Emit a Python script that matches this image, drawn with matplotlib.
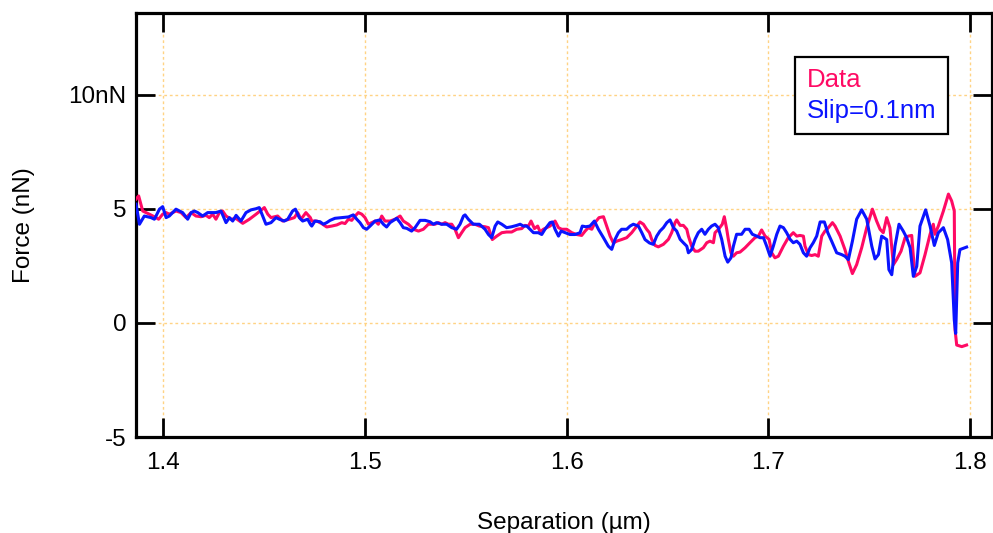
import matplotlib
matplotlib.use("Agg")
import matplotlib.pyplot as plt
from matplotlib.lines import Line2D

plt.rcParams['font.family'] = ['Liberation Sans', 'DejaVu Sans']

# Measured force curve (separation in µm, force in nN)
data_x = [
    1.3866, 1.3879, 1.3899, 1.3932, 1.3965, 1.3978, 1.3998, 1.4015, 1.4031, 1.4064,
    1.4089, 1.4114, 1.4139, 1.4163, 1.4188, 1.4213, 1.4229, 1.4246, 1.4262, 1.4279,
    1.4295, 1.4312, 1.4337, 1.4362, 1.4395, 1.4428, 1.4461, 1.4502, 1.4519, 1.4535,
    1.4568, 1.4593, 1.4626, 1.4651, 1.4667, 1.4684, 1.4708, 1.4730,
    1.4737, 1.4762, 1.4786, 1.4811, 1.4836, 1.4861, 1.4886, 1.4902, 1.4919, 1.4935,
    1.4952, 1.4968, 1.4985, 1.5001, 1.5018, 1.5034, 1.5051, 1.5067, 1.5084, 1.5100,
    1.5125, 1.5150, 1.5175, 1.5191, 1.5216, 1.5241, 1.5266, 1.5290, 1.5315, 1.5332,
    1.5348, 1.5365, 1.5381, 1.5398, 1.5414, 1.5431, 1.5447, 1.5464, 1.5480, 1.5497,
    1.5522, 1.5546, 1.5568,
    1.5596, 1.5613, 1.5632, 1.5654, 1.5679, 1.5703, 1.5728, 1.5753, 1.5778, 1.5794,
    1.5811, 1.5824, 1.5841, 1.5857, 1.5869, 1.5885, 1.5902, 1.5918, 1.5943, 1.5960,
    1.5976, 1.6001, 1.6026, 1.6050, 1.6075, 1.6092, 1.6108, 1.6125, 1.6141, 1.6161,
    1.6183, 1.6199, 1.6216, 1.6232, 1.6249, 1.6273, 1.6298, 1.6323, 1.6348, 1.6364,
    1.6381, 1.6397, 1.6411,
    1.6422, 1.6439, 1.6455, 1.6480, 1.6505, 1.6521, 1.6538, 1.6546, 1.6563, 1.6579,
    1.6596, 1.6604, 1.6620, 1.6637, 1.6653, 1.6678, 1.6695, 1.6711, 1.6728, 1.6736,
    1.6753, 1.6772, 1.6782, 1.6794, 1.6802, 1.6815, 1.6827, 1.6843, 1.6860, 1.6885,
    1.6909, 1.6934, 1.6951, 1.6967, 1.6984, 1.7004, 1.7017, 1.7033, 1.7050, 1.7075,
    1.7099, 1.7124, 1.7141, 1.7157, 1.7174, 1.7182, 1.7199, 1.7215, 1.7232, 1.7248,
    1.7265, 1.7281, 1.7298, 1.7318, 1.7331, 1.7356, 1.7380, 1.7397, 1.7417, 1.7438,
    1.7463, 1.7488, 1.7516, 1.7537, 1.7554, 1.7570, 1.7587, 1.7603, 1.7620, 1.7636,
    1.7658, 1.7678, 1.7694, 1.7711, 1.7727, 1.7752, 1.7777, 1.7802, 1.7818, 1.7826,
    1.7843, 1.7868, 1.7893, 1.7909, 1.7922, 1.7926, 1.7934, 1.7959, 1.7983,
]
data_f = [
    5.42, 5.56, 4.90, 4.76, 4.61, 4.54, 4.76, 4.83, 4.76, 4.90,
    4.83, 4.61, 4.83, 4.68, 4.65, 4.71, 4.61, 4.76, 4.54, 4.83,
    4.90, 4.68, 4.54, 4.57, 4.36, 4.54, 4.76, 5.05, 4.76, 4.61,
    4.68, 4.46, 4.54, 4.61, 4.83, 4.54, 4.83, 4.61,
    4.46, 4.46, 4.35, 4.20, 4.24, 4.29, 4.39, 4.35, 4.54, 4.49,
    4.68, 4.83, 4.76, 4.61, 4.32, 4.39, 4.46, 4.32, 4.68, 4.46,
    4.46, 4.54, 4.68, 4.46, 4.32, 4.10, 4.02, 4.10, 4.32, 4.32,
    4.32, 4.39, 4.32, 4.39, 4.32, 4.32, 4.10, 3.73, 3.95, 4.17,
    4.32, 4.32, 4.24,
    4.21, 4.17, 3.65, 3.80, 3.95, 3.98, 3.98, 4.10, 4.13, 4.27,
    4.24, 4.46, 4.13, 4.24, 3.98, 4.10, 4.17, 4.24, 4.46, 4.17,
    4.10, 4.10, 3.95, 3.87, 3.83, 4.02, 4.17, 4.10, 4.39, 4.61,
    4.65, 4.24, 3.80, 3.50, 3.58, 3.65, 3.73, 3.95, 4.24, 4.42,
    4.32, 4.10, 3.95,
    3.66, 3.39, 3.33, 3.44, 3.66, 3.95, 4.39, 4.51, 4.27, 4.27,
    4.10, 3.80, 3.36, 3.14, 3.14, 3.29, 3.51, 3.58, 3.51, 3.95,
    4.10, 4.32, 4.65, 4.10, 3.66, 3.07, 2.92, 3.07, 3.10, 3.29,
    3.51, 3.73, 3.80, 4.07, 3.80, 3.66, 3.07, 2.85, 2.92, 3.36,
    3.73, 3.95, 3.80, 3.83, 3.80, 3.36, 2.99, 2.95, 2.99, 2.92,
    3.80, 4.02, 4.17, 4.39, 4.24, 3.80, 3.21, 2.70, 2.16, 2.55,
    3.29, 4.17, 4.98, 4.46, 4.10, 3.95, 4.61, 4.17, 2.55, 2.77,
    3.14, 3.73, 3.80, 3.83, 2.04, 2.19, 2.99, 3.88, 4.32, 3.88,
    4.24, 4.90, 5.64, 5.34, 4.90, -0.31, -0.97, -1.04, -0.97,
]

# Slip model, 0.1 nm slip length
slip_x = [
    1.3866, 1.3883, 1.3907, 1.3940, 1.3957, 1.3982, 1.3998, 1.4015, 1.4031, 1.4064,
    1.4097, 1.4122, 1.4139, 1.4155, 1.4172, 1.4196, 1.4221, 1.4238, 1.4262, 1.4287,
    1.4312, 1.4329, 1.4345, 1.4362, 1.4386, 1.4411, 1.4436, 1.4461, 1.4477, 1.4494,
    1.4510, 1.4535, 1.4560, 1.4576, 1.4601, 1.4618, 1.4642, 1.4656, 1.4675, 1.4692,
    1.4717, 1.4730,
    1.4737, 1.4753, 1.4778, 1.4795, 1.4811, 1.4828, 1.4852, 1.4886, 1.4919, 1.4943,
    1.4960, 1.4976, 1.4993, 1.5009, 1.5026, 1.5051, 1.5075, 1.5092, 1.5108, 1.5125,
    1.5142, 1.5158, 1.5175, 1.5191, 1.5208, 1.5232, 1.5249, 1.5274, 1.5299, 1.5323,
    1.5340, 1.5356, 1.5381, 1.5406, 1.5431, 1.5455, 1.5472, 1.5489, 1.5497, 1.5513,
    1.5538, 1.5568,
    1.5596, 1.5613, 1.5629, 1.5646, 1.5659, 1.5679, 1.5703, 1.5728, 1.5753, 1.5770,
    1.5786, 1.5803, 1.5819, 1.5836, 1.5860, 1.5877, 1.5893, 1.5918, 1.5930, 1.5943,
    1.5960, 1.5973, 1.5993, 1.6017, 1.6042, 1.6067, 1.6078, 1.6095, 1.6116, 1.6138,
    1.6158, 1.6183, 1.6207, 1.6224, 1.6240, 1.6257, 1.6273, 1.6298, 1.6315, 1.6331,
    1.6356, 1.6373, 1.6389, 1.6411,
    1.6430, 1.6447, 1.6463, 1.6480, 1.6497, 1.6513, 1.6530, 1.6546, 1.6563, 1.6579,
    1.6596, 1.6604, 1.6620, 1.6637, 1.6653, 1.6670, 1.6686, 1.6703, 1.6719, 1.6736,
    1.6752, 1.6769, 1.6786, 1.6799, 1.6815, 1.6827, 1.6843, 1.6868, 1.6885, 1.6905,
    1.6921, 1.6943, 1.6959, 1.6976, 1.6992, 1.7009, 1.7025, 1.7042, 1.7058, 1.7075,
    1.7091, 1.7108, 1.7124, 1.7141, 1.7157, 1.7174, 1.7190, 1.7207, 1.7223, 1.7240,
    1.7257, 1.7278, 1.7295, 1.7314, 1.7339, 1.7364, 1.7380, 1.7397, 1.7417, 1.7438,
    1.7463, 1.7488, 1.7513, 1.7529, 1.7546, 1.7562, 1.7587, 1.7598, 1.7612, 1.7628,
    1.7648, 1.7669, 1.7686, 1.7703, 1.7719, 1.7736, 1.7752, 1.7780, 1.7802, 1.7823,
    1.7843, 1.7868, 1.7889, 1.7909, 1.7922, 1.7929, 1.7939, 1.7950, 1.7983,
]
slip_f = [
    5.20, 4.32, 4.68, 4.61, 4.54, 4.98, 5.09, 4.61, 4.68, 4.98,
    4.83, 4.54, 4.83, 4.90, 4.83, 4.68, 4.83, 4.83, 4.83, 4.90,
    4.39, 4.61, 4.46, 4.71, 4.46, 4.83, 4.95, 5.00, 5.05, 4.68,
    4.32, 4.39, 4.61, 4.54, 4.46, 4.54, 4.90, 4.98, 4.61, 4.46,
    4.54, 4.32,
    4.24, 4.46, 4.43, 4.32, 4.39, 4.49, 4.58, 4.61, 4.64, 4.73,
    4.54, 4.39, 4.17, 4.10, 4.24, 4.46, 4.51, 4.32, 4.20, 4.39,
    4.49, 4.58, 4.39, 4.17, 4.14, 4.02, 4.17, 4.49, 4.49, 4.43,
    4.32, 4.39, 4.32, 4.32, 4.17, 4.10, 4.32, 4.68, 4.73, 4.54,
    4.32, 4.32,
    4.10, 3.87, 3.73, 4.24, 4.42, 4.32, 4.17, 4.21, 4.27, 4.32,
    4.24, 4.24, 4.10, 3.95, 3.95, 3.87, 4.10, 4.39, 4.42, 4.10,
    3.80, 4.02, 3.95, 3.87, 3.87, 3.95, 4.24, 4.21, 4.24, 4.46,
    4.10, 3.73, 3.36, 3.22, 3.65, 3.95, 4.10, 4.10, 4.24, 4.32,
    4.24, 3.95, 3.65, 3.50,
    3.44, 3.80, 4.02, 4.17, 4.39, 4.51, 4.17, 4.02, 3.66, 3.51,
    3.36, 3.07, 3.21, 3.66, 3.95, 4.10, 3.88, 4.10, 4.24, 4.32,
    4.17, 3.66, 2.92, 2.66, 2.85, 3.36, 3.88, 3.88, 4.10, 4.10,
    3.88, 3.80, 3.73, 3.73, 3.36, 2.92, 3.36, 3.88, 4.24, 4.17,
    3.95, 3.66, 3.51, 3.58, 3.44, 3.07, 2.92, 3.29, 3.51, 3.80,
    4.42, 4.42, 3.95, 3.58, 3.07, 2.99, 2.92, 2.77, 3.58, 4.54,
    4.95, 4.54, 3.36, 2.80, 2.99, 3.80, 3.65, 2.33, 2.11, 3.36,
    4.32, 4.02, 3.73, 3.29, 2.04, 2.48, 4.24, 4.95, 4.24, 3.39,
    3.95, 4.17, 3.65, 2.63, 0.13, -0.46, 2.63, 3.21, 3.32,
]

x_ticks = [1.4, 1.5, 1.6, 1.7, 1.8]
x_tick_labels = ["1.4", "1.5", "1.6", "1.7", "1.8"]
y_ticks = [-5, 0, 5, 10]
y_tick_labels = ["-5", "0", "5", "10nN"]

data_color = "#ff0a64"
slip_color = "#0a14ff"

fig = plt.figure(figsize=(9.93, 5.33), dpi=100)
ax = fig.add_axes([0.137, 0.180, 0.862, 0.796])

ax.plot(data_x, data_f, color=data_color, lw=2.2, solid_joinstyle="round", zorder=3)
ax.plot(slip_x, slip_f, color=slip_color, lw=2.2, solid_joinstyle="round", zorder=4)

ax.set_xlim(1.3866, 1.8109)
ax.set_ylim(-5, 13.58)
ax.set_xticks(x_ticks)
ax.set_xticklabels(x_tick_labels)
ax.set_yticks(y_ticks)
ax.set_yticklabels(y_tick_labels)

ax.grid(True, color="#ffd384", linestyle=(0, (2.0, 2.0)), linewidth=1.0, zorder=0)
for s in ax.spines.values():
    s.set_linewidth(2.3)
ax.tick_params(axis="both", which="major", direction="in", length=13.5, width=2.0,
               top=True, right=True, labelsize=17.5, colors="black")
ax.tick_params(axis="x", pad=11)
ax.tick_params(axis="y", pad=7)

ax.set_xlabel("Separation (µm)", fontsize=17.5, labelpad=27)
ax.set_ylabel("Force (nN)", fontsize=17.5, labelpad=24)

handles = [Line2D([], [], color=data_color, lw=0), Line2D([], [], color=slip_color, lw=0)]
leg = ax.legend(handles, ["Data", "Slip=0.1nm"], loc="upper left",
                bbox_to_anchor=(0.770, 0.896), borderaxespad=0, fontsize=18.5,
                handlelength=0, handletextpad=0, fancybox=False, framealpha=1,
                edgecolor="black", borderpad=0.45, labelspacing=0.25)
leg.get_frame().set_linewidth(1.6)
for txt, c in zip(leg.get_texts(), [data_color, slip_color]):
    txt.set_color(c)

fig.savefig("out.png", dpi=100)
